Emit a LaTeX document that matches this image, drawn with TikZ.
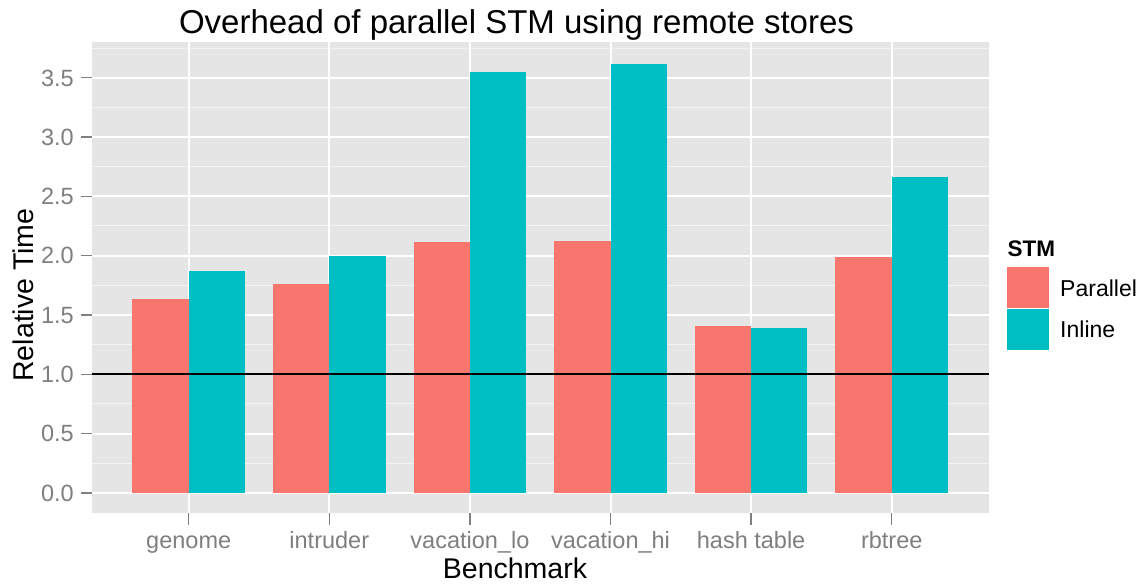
\documentclass[tikz,border=0pt]{standalone}
\usepackage{fontspec}
\setmainfont{Liberation Sans}
\definecolor{panelbg}{HTML}{E5E5E5}
\definecolor{minorgrid}{HTML}{F2F2F2}
\definecolor{axisgrey}{HTML}{7F7F7F}
\definecolor{parred}{HTML}{F8766D}
\definecolor{inlteal}{HTML}{00BFC4}
\begin{document}
\begin{tikzpicture}[x=1pt,y=-1pt,
  majorline/.style={white, line width=2pt},
  minorline/.style={minorgrid, line width=1pt},
  tickmark/.style={axisgrey, line width=1.4pt},
  ticklabel/.style={text=axisgrey, font=\fontsize{23.5}{28}\selectfont, inner sep=0pt},
  axistitle/.style={text=black, font=\fontsize{28.5}{34}\selectfont, inner sep=0pt},
  legtext/.style={text=black, font=\fontsize{23}{28}\selectfont, inner sep=0pt},
  legkey/.style={minimum width=42pt, minimum height=41pt, inner sep=0pt, anchor=north west}]
\useasboundingbox (0,0) rectangle (1145,585);
\fill[white] (0,0) rectangle (1145,585);
% panel
\fill[panelbg] (92,42) rectangle (989,513);
% minor grid
\foreach \v in {0.25,0.75,1.25,1.75,2.25,2.75,3.25,3.75}
  \draw[minorline] (92,{492.8-118.6*\v}) -- (989,{492.8-118.6*\v});
% major grid
\foreach \v in {0,0.5,1,1.5,2,2.5,3,3.5}
  \draw[majorline] (92,{492.8-118.6*\v}) -- (989,{492.8-118.6*\v});
\foreach \i in {0,...,5}
  \draw[majorline] ({188.7+140.6*\i},42) -- ({188.7+140.6*\i},513);
% bars
\foreach \i/\a/\b in {0/1.634/1.870, 1/1.763/1.997, 2/2.115/3.548, 3/2.123/3.613, 4/1.406/1.389, 5/1.988/2.663} {
  \pgfmathsetmacro\cx{188.7+140.6*\i}
  \fill[parred] ({\cx-56.3},492.8) rectangle (\cx,{492.8-118.6*\a});
  \fill[inlteal] (\cx,492.8) rectangle ({\cx+56.3},{492.8-118.6*\b});
}
% reference line
\draw[black, line width=1.7pt] (92,{492.8-118.6}) -- (989,{492.8-118.6});
% y ticks and labels
\foreach \v/\lab [count=\k] in {0/0.0,0.5/0.5,1/1.0,1.5/1.5,2/2.0,2.5/2.5,3/3.0,3.5/3.5} {
  \draw[tickmark] (81,{492.8-118.6*\v}) -- (92,{492.8-118.6*\v});
  \node[ticklabel, anchor=base east] (ytick\k) at (74,{492.8-118.6*\v+8.4}) {\lab};
}
% x ticks and labels
\foreach \lab [count=\k from 0] in {genome,intruder,vacation\_lo,vacation\_hi,hash table,rbtree} {
  \draw[tickmark] ({188.7+140.6*\k},513) -- ({188.7+140.6*\k},525);
  \node[ticklabel, anchor=base] (xtick\k) at ({188.7+140.6*\k},548) {\lab};
}
% titles
\node[text=black, font=\fontsize{33}{40}\selectfont, inner sep=0pt, anchor=base] (title) at (516.5,34) {Overhead of parallel STM using remote stores};
\node[axistitle, anchor=base] (xlab) at (515,578) {Benchmark};
\node[axistitle, anchor=base, rotate=90] (ylab) at (33,295) {Relative Time};
% legend
\node[text=black, font=\bfseries\fontsize{22.5}{27}\selectfont, inner sep=0pt, anchor=base west] (legtitle) at (1007.5,256.7) {STM};
\node[legkey, fill=parred] (keypar) at (1007,266.5) {};
\node[legkey, fill=inlteal] (keyinl) at (1007,308.7) {};
\node[legtext, anchor=base west] (labpar) at (1060,296.7) {Parallel};
\node[legtext, anchor=base west] (labinl) at (1060,337.3) {Inline};
\end{tikzpicture}
\end{document}
